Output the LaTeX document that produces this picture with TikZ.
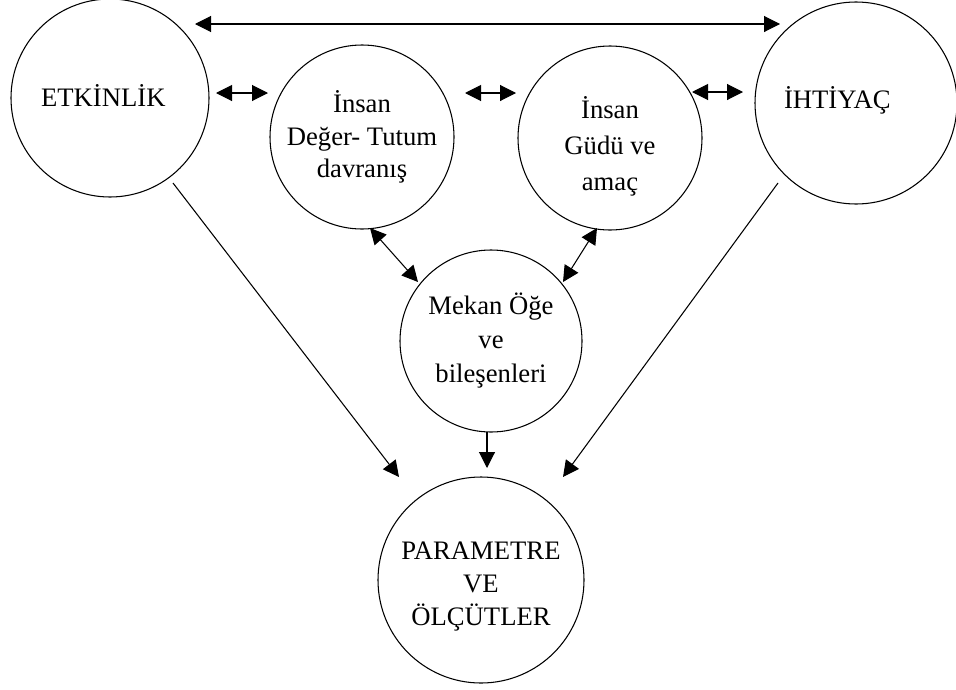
\documentclass[tikz,border=0pt]{standalone}
\usepackage{fontspec}
\setmainfont{Liberation Serif}
\usepackage{tikz}
\usetikzlibrary{calc}
\usetikzlibrary{arrows.meta}

\begin{document}
\begin{tikzpicture}[x=0.75pt, y=-0.75pt, line width=0.8pt,
  yazi/.style={align=center, font=\fontsize{20}{24.5}\selectfont},
  daire/.style={draw, circle, inner sep=0pt, outer sep=0pt, yazi},
  ok/.style={-{Triangle[length=12pt, width=12pt]}},
  ciftok/.style={{Triangle[length=12pt, width=12pt]}-{Triangle[length=12pt, width=12pt]}}]
\useasboundingbox (0,0) rectangle (956,689);
\node[daire, minimum size=148.5pt, label={[yazi, xshift=-5pt, yshift=2pt]center:ETKİNLİK}] (etkinlik) at (110,98) {};
\node[daire, minimum size=138pt] (deger) at (362,137) {İnsan\\Değer- Tutum\\davranış};
\node[daire, minimum size=138pt, label={[yazi, font=\fontsize{20}{27}\selectfont, yshift=-6pt]center:{İnsan\\Güdü ve\\amaç}}] (gudu) at (610,138) {};
\node[daire, minimum size=151.5pt, label={[yazi, xshift=-14pt, yshift=2pt]center:İHTİYAÇ}] (ihtiyac) at (856,103) {};
\node[daire, minimum size=136.5pt, font=\fontsize{20}{25.5}\selectfont] (mekan) at (491,341) {Mekan Öğe\\ve\\bileşenleri};
\node[daire, minimum size=154.5pt, label={[yazi, yshift=-5pt]center:{PARAMETRE\\VE\\ÖLÇÜTLER}}] (parametre) at (481,580) {};

\draw[ciftok] ($(etkinlik)+(85,-74)$) -- ($(ihtiyac)+(-76,-79)$);
\draw[ciftok] ($(etkinlik)+(106,-5)$) -- ($(deger)+(-94,-44)$);
\draw[ciftok] ($(deger)+(103,-44)$) -- ($(gudu)+(-94,-45)$);
\draw[ciftok] ($(gudu)+(82,-46)$) -- ($(ihtiyac)+(-113,-11)$);
\draw[ciftok] ($(deger)+(8,91)$) -- ($(mekan)+(-73,-59)$);
\draw[ciftok] ($(gudu)+(-13,90)$) -- ($(mekan)+(72,-59)$);
\draw[ok] ($(etkinlik)+(63,85)$) -- ($(parametre)+(-82,-103)$);
\draw[ok] ($(ihtiyac)+(-78,80)$) -- ($(parametre)+(82,-103)$);
\draw[ok] ($(mekan)+(-4,91)$) -- ($(parametre)+(6,-112)$);
\end{tikzpicture}
\end{document}
